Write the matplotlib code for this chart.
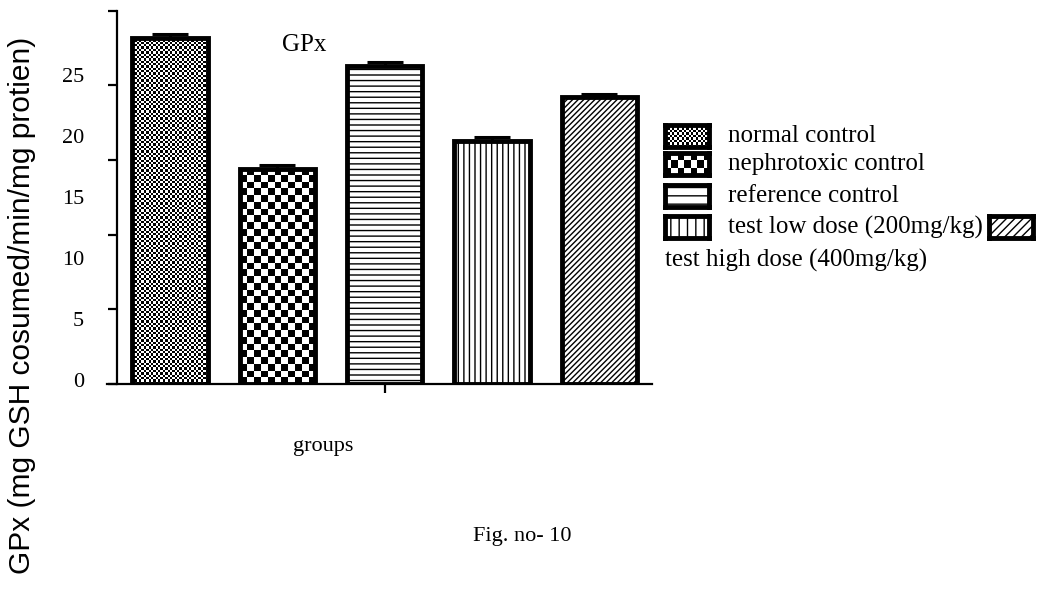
import numpy as np
import matplotlib
matplotlib.use("Agg")
import matplotlib.pyplot as plt
import matplotlib.patches as mpatches
from matplotlib.transforms import blended_transform_factory

# data
groups = ["normal control", "nephrotoxic control", "reference control",
          "test low dose (200mg/kg)", "test high dose (400mg/kg)"]
gpx_mean = [23.2, 14.4, 21.3, 16.3, 19.2]
gpx_err = [0.25, 0.25, 0.25, 0.25, 0.25]
patterns = ["fine", "coarse", "---", "|||", "//////"]
# the legend swatches use a coarser version of each fill
swatch_patterns = ["fine", "coarse", "--", "||", "////"]
ytick_values = [0, 5, 10, 15, 20, 25]
ytick_labels = ["0", "5", "10", "15", "20", "25"]

W, H = 1044, 592
plt.rcParams['hatch.linewidth'] = 1.0
serif = ["Liberation Serif", "DejaVu Serif"]

fig = plt.figure(figsize=(W / 100, H / 100), dpi=100)
ax = fig.add_axes([106.7 / W, (H - 384) / H, 545.3 / W, 373.3 / H])


def fill_pattern(a, x0, x1, y0, y1, kind, px_x, px_y, z=2):
    # checker patterns as images, the rest as hatches
    if kind in ("fine", "coarse"):
        cell = 2.35 if kind == "fine" else 6.7
        nc = max(1, int(round((x1 - x0) * px_x / cell)))
        nr = max(1, int(round((y1 - y0) * px_y / cell)))
        board = np.add.outer(np.arange(nr), np.arange(nc)) % 2
        a.imshow(board, cmap="gray", extent=(x0, x1, y0, y1), origin="lower",
                 interpolation="nearest", aspect="auto", zorder=z, vmin=0, vmax=1)
    else:
        a.add_patch(mpatches.Rectangle((x0, y0), x1 - x0, y1 - y0, facecolor="white",
                                       edgecolor="black", hatch=kind, linewidth=0, zorder=z))


x = np.arange(len(groups))
width = 0.70
ax.set_xlim(-0.59, 4.49)
ax.set_ylim(0, 25)

p0 = ax.transData.transform((0, 0))
p1 = ax.transData.transform((1, 1))
px_x, px_y = p1[0] - p0[0], p1[1] - p0[1]

for xi, val, pat in zip(x, gpx_mean, patterns):
    fill_pattern(ax, xi - width / 2, xi + width / 2, 0, val, pat, px_x, px_y)

ax.bar(x, gpx_mean, width, fill=False, edgecolor="black", linewidth=3.5, zorder=3)
ax.errorbar(x, gpx_mean, yerr=[np.zeros(len(x)), gpx_err], fmt="none", ecolor="black",
            elinewidth=2, capsize=13, capthick=2.2, zorder=4)

ax.set_xlim(-0.59, 4.49)
ax.set_ylim(0, 25)

# axes styling
for s in ["top", "right"]:
    ax.spines[s].set_visible(False)
ax.spines["left"].set_position(("data", -0.49))
ax.spines["left"].set_linewidth(1.6)
ax.spines["bottom"].set_linewidth(1.6)
ax.set_yticks(ytick_values)
ax.set_yticklabels([])
ax.tick_params(axis="y", direction="out", length=6.5, width=1.6)
ax.set_xticks([2])
ax.set_xticklabels([])
ax.tick_params(axis="x", direction="out", length=6.5, width=1.6)

# tick labels sit where the original put them (not on the ticks)
lab_tr = blended_transform_factory(fig.transFigure, ax.transData)
label_pos = np.linspace(0.1, 20.5, len(ytick_labels))
for lab, yp in zip(ytick_labels, label_pos):
    ax.text(84 / W, yp, lab, transform=lab_tr, ha="right", va="center",
            fontsize=16, family=serif)

fig.text(304 / W, 1 - 45 / H, "GPx", ha="center", va="center", fontsize=18, family=serif)

fig.text(22 / W, 1 - 305 / H, "GPx (mg GSH cosumed/min/mg protien)", rotation=90,
         ha="center", va="center", fontsize=21.5, family=["Liberation Sans", "DejaVu Sans"])
fig.text(323 / W, 1 - 446 / H, "groups", ha="center", va="center", fontsize=16, family=serif)
fig.text(522 / W, 1 - 536 / H, "Fig. no- 10", ha="center", va="center", fontsize=16, family=serif)

# legend drawn by hand: four rows, the fifth swatch trails the fourth label
sw_w, sw_h = 44, 22
row_y = [136, 164, 196, 227]


def swatch(left_px, center_px, kind):
    sa = fig.add_axes([left_px / W, 1 - (center_px + sw_h / 2) / H, sw_w / W, sw_h / H])
    sa.set_xlim(0, 1)
    sa.set_ylim(0, 1)
    fill_pattern(sa, 0, 1, 0, 1, kind, sw_w, sw_h)
    sa.set_xlim(0, 1)
    sa.set_ylim(0, 1)
    sa.set_xticks([])
    sa.set_yticks([])
    for sp in sa.spines.values():
        sp.set_linewidth(3.5)
    return sa


last_text = None
for name, pat, yc in zip(groups[:4], swatch_patterns[:4], row_y):
    swatch(665, yc, pat)
    last_text = fig.text(728 / W, 1 - yc / H, name, ha="left", va="center", fontsize=18, family=serif)

fig.canvas.draw()
bb = last_text.get_window_extent()
swatch(bb.x1 + 6, row_y[-1], swatch_patterns[4])
fig.text(665 / W, 1 - 260 / H, groups[4], ha="left", va="center", fontsize=18, family=serif)

fig.savefig("out.png", dpi=100)
